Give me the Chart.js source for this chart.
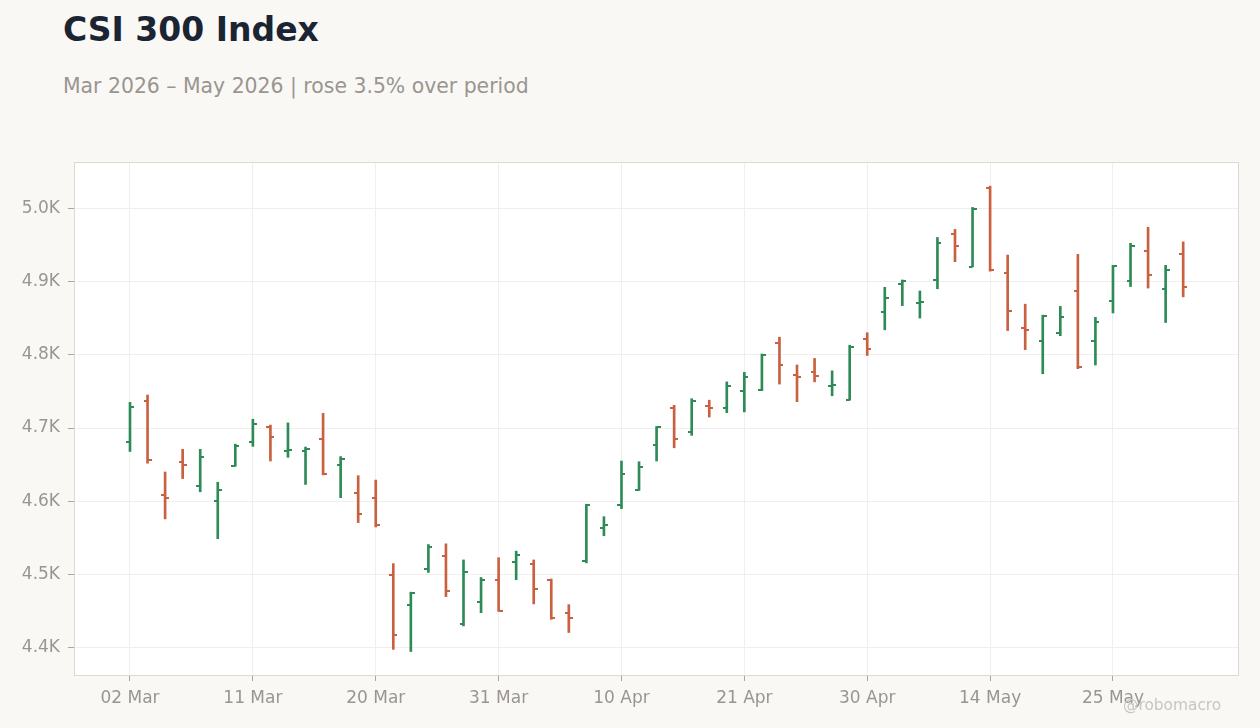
<!DOCTYPE html>
<html>
<head>
<meta charset="utf-8">
<script src="https://cdn.jsdelivr.net/npm/chart.js@4.4.1/dist/chart.umd.min.js"></script>
<style>
  html, body { margin: 0; padding: 0; background: #f9f8f5; }
  body { width: 1260px; height: 728px; position: relative; overflow: hidden; font-family: "DejaVu Sans", sans-serif; }
  #title { position: absolute; left: 63px; top: 10px; font-size: 33px; font-weight: bold; color: #1b2433; white-space: nowrap; }
  #subtitle { position: absolute; left: 63px; top: 74px; font-size: 20.4px; color: #9a9590; white-space: nowrap; }
  #mark { position: absolute; left: 1123px; top: 696px; font-size: 15.4px; color: #c9c5c0; white-space: nowrap; }
  canvas { position: absolute; left: 0; top: 0; }
</style>
</head>
<body>
<div id="title">CSI 300 Index</div>
<div id="subtitle">Mar 2026 – May 2026 | rose 3.5% over period</div>
<canvas id="c" width="1260" height="728"></canvas>
<div id="mark">@robomacro</div>
<script>
const dates = [
  "02 Mar","03 Mar","04 Mar","05 Mar","06 Mar","09 Mar","10 Mar","11 Mar","12 Mar","13 Mar",
  "16 Mar","17 Mar","18 Mar","19 Mar","20 Mar","23 Mar","24 Mar","25 Mar","26 Mar","27 Mar",
  "30 Mar","31 Mar","01 Apr","02 Apr","03 Apr","07 Apr","08 Apr","09 Apr","10 Apr","13 Apr",
  "14 Apr","15 Apr","16 Apr","17 Apr","20 Apr","21 Apr","22 Apr","23 Apr","24 Apr","27 Apr",
  "28 Apr","29 Apr","30 Apr","06 May","07 May","08 May","11 May","12 May","13 May","14 May",
  "15 May","18 May","19 May","20 May","21 May","22 May","25 May","26 May","27 May","28 May","29 May"
];
const openVals = [4681,4737,4609,4653,4621,4601,4648,4681,4702,4668,4669,4685,4649,4612,4604,4500,4459,4507,4526,4432,4462,4492,4517,4515,4493,4447,4518,4563,4595,4615,4677,4728,4695,4730,4728,4751,4752,4816,4773,4777,4758,4738,4821,4859,4897,4871,4902,4965,4920,5028,4912,4837,4819,4830,4887,4819,4874,4901,4942,4890,4938];
const highVals = [4735,4745,4640,4671,4671,4626,4678,4712,4704,4707,4674,4720,4661,4635,4629,4515,4476,4541,4542,4520,4496,4523,4532,4520,4494,4459,4596,4579,4655,4654,4702,4731,4740,4738,4763,4776,4801,4824,4786,4795,4778,4813,4830,4892,4902,4887,4960,4971,5001,5030,4936,4869,4854,4866,4937,4851,4922,4952,4974,4922,4954];
const lowVals  = [4668,4652,4576,4631,4613,4549,4648,4675,4655,4660,4623,4636,4605,4571,4565,4398,4395,4503,4470,4430,4448,4450,4493,4460,4439,4421,4516,4553,4590,4615,4655,4673,4690,4715,4721,4722,4751,4760,4736,4763,4744,4738,4799,4834,4867,4850,4890,4927,4920,4914,4833,4807,4774,4826,4781,4786,4857,4893,4891,4844,4879];
const closeVals= [4729,4656,4604,4649,4661,4616,4676,4705,4688,4670,4672,4637,4658,4583,4568,4418,4475,4538,4478,4503,4493,4451,4527,4480,4441,4441,4595,4567,4637,4647,4702,4685,4737,4728,4758,4769,4800,4786,4770,4771,4759,4811,4808,4878,4901,4872,4953,4949,4999,4915,4860,4834,4853,4852,4783,4845,4921,4949,4909,4915,4893];
const xTickIdx = [0,7,14,21,28,35,42,49,56];
const yTickVals = [4400,4500,4600,4700,4800,4900,5000];

const UP = '#2e8b57';
const DOWN = '#c9603f';

function tickImg(color, side) {
  const cv = document.createElement('canvas');
  cv.width = 8; cv.height = 2;
  const cx = cv.getContext('2d');
  cx.fillStyle = color;
  if (side === 'left') cx.fillRect(0, 0, 4, 2); else cx.fillRect(4, 0, 4, 2);
  return cv;
}
const imgs = {
  upL: tickImg(UP, 'left'), upR: tickImg(UP, 'right'),
  dnL: tickImg(DOWN, 'left'), dnR: tickImg(DOWN, 'right')
};
const isUp = closeVals.map((c, i) => c >= openVals[i]);

const rangeData = dates.map((d, i) => ({ x: i, y: [lowVals[i], highVals[i]] }));
const openData = dates.map((d, i) => ({ x: i, y: openVals[i] }));
const closeData = dates.map((d, i) => ({ x: i, y: closeVals[i] }));

const boxPlugin = {
  id: 'box',
  beforeDraw(chart) {
    const a = chart.chartArea, ctx = chart.ctx;
    ctx.save();
    ctx.fillStyle = '#ffffff';
    ctx.fillRect(a.left, a.top, a.right - a.left, a.bottom - a.top);
    ctx.restore();
  },
  afterDraw(chart) {
    const a = chart.chartArea, ctx = chart.ctx;
    ctx.save();
    ctx.strokeStyle = '#dcd8d2';
    ctx.lineWidth = 1;
    ctx.strokeRect(Math.round(a.left) + 0.5, Math.round(a.top) + 0.5, Math.round(a.right - a.left) - 1, Math.round(a.bottom - a.top));
    ctx.restore();
  }
};

new Chart(document.getElementById('c'), {
  type: 'bar',
  data: {
    datasets: [
      {
        type: 'bar',
        data: rangeData,
        backgroundColor: isUp.map(u => u ? UP : DOWN),
        borderWidth: 0,
        barThickness: 2,
        order: 2
      },
      {
        type: 'scatter',
        data: openData,
        pointStyle: isUp.map(u => u ? imgs.upL : imgs.dnL),
        pointRadius: 3,
        order: 1
      },
      {
        type: 'scatter',
        data: closeData,
        pointStyle: isUp.map(u => u ? imgs.upR : imgs.dnR),
        pointRadius: 3,
        order: 1
      }
    ]
  },
  options: {
    responsive: false,
    animation: false,
    devicePixelRatio: 1,
    events: [],
    layout: { padding: { top: 162, right: 21, left: 0, bottom: 0 } },
    plugins: { legend: { display: false }, tooltip: { enabled: false }, title: { display: false } },
    scales: {
      x: {
        type: 'linear',
        min: -3.19,
        max: 63.18,
        offset: false,
        afterFit(s) { s.height = 53; },
        afterBuildTicks(s) { s.ticks = xTickIdx.map(v => ({ value: v })); },
        grid: { color: '#f0efed', tickColor: '#a9a5a0', tickLength: 6, offset: false },
        border: { display: false },
        ticks: {
          autoSkip: false, maxRotation: 0, padding: 7,
          color: '#9a9590', font: { family: 'DejaVu Sans', size: 17 },
          callback: v => dates[v]
        }
      },
      y: {
        type: 'linear',
        min: 4363,
        max: 5063,
        afterFit(s) { s.width = 74; },
        afterBuildTicks(s) { s.ticks = yTickVals.map(v => ({ value: v })); },
        grid: { color: '#f0efed', tickColor: '#a9a5a0', tickLength: 6 },
        border: { display: false },
        ticks: {
          padding: 8,
          color: '#9a9590', font: { family: 'DejaVu Sans', size: 17 },
          callback: v => (v / 1000).toFixed(1) + 'K'
        }
      }
    }
  },
  plugins: [boxPlugin]
});
</script>
</body>
</html>
